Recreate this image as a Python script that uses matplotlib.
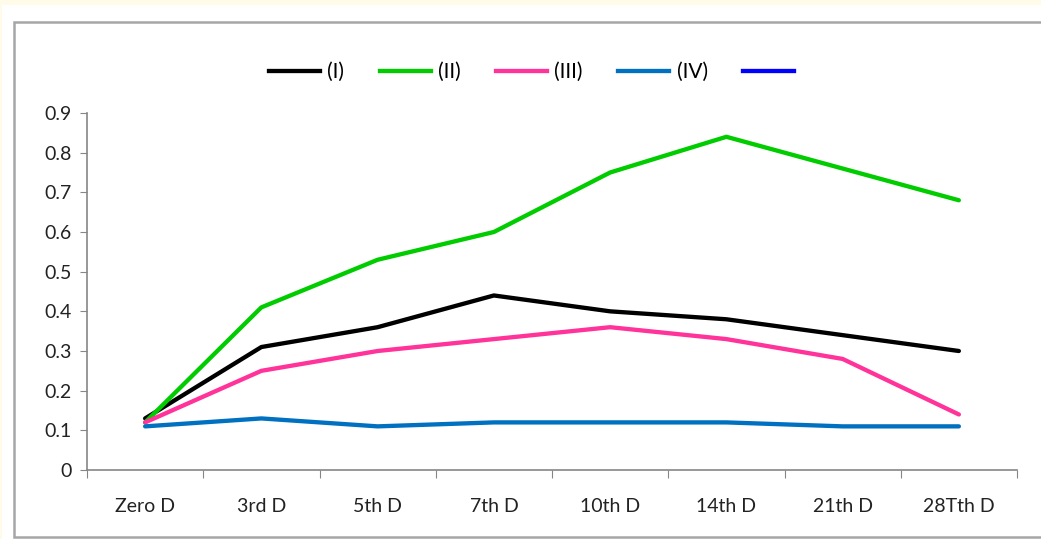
import matplotlib.pyplot as plt
import matplotlib.patches as patches
from matplotlib.lines import Line2D

days = ['Zero D', '3rd D', '5th D', '7th D', '10th D', '14th D', '21th D', '28Tth D']
s1 = [0.13, 0.31, 0.36, 0.44, 0.40, 0.38, 0.34, 0.30]
s2 = [0.12, 0.41, 0.53, 0.60, 0.75, 0.84, 0.76, 0.68]
s3 = [0.12, 0.25, 0.30, 0.33, 0.36, 0.33, 0.28, 0.14]
s4 = [0.11, 0.13, 0.11, 0.12, 0.12, 0.12, 0.11, 0.11]
labels = ['(I)', '(II)', '(III)', '(IV)', '']
colors = ['#000000', '#00cc00', '#ff3399', '#0070c0', '#0000ff']

plt.rcParams['font.family'] = ['Lato', 'DejaVu Sans']
plt.rcParams['font.size'] = 14

dpi = 100
fig = plt.figure(figsize=(1041 / dpi, 539 / dpi), dpi=dpi, facecolor='#fffbe8')
# white chart area with grey frame (behind the axes)
fig.patches.append(patches.Rectangle((0.0015, 0.0), 1.0, 0.99, transform=fig.transFigure,
                                     facecolor='white', edgecolor='none', zorder=-2))
fig.patches.append(patches.Rectangle((14 / 1041, 2 / 539), 1.1, (539 - 24) / 539, transform=fig.transFigure,
                                     facecolor='white', edgecolor='#a6a6a6', lw=1.8, zorder=-1))

ax = fig.add_axes([87 / 1041, 69 / 539, 930 / 1041, 357 / 539])
ax.set_facecolor('none')

x = list(range(len(days)))
for ys, col in zip([s1, s2, s3, s4], colors):
    ax.plot(x, ys, color=col, lw=3.1, solid_capstyle='round')

ax.set_xlim(-0.5, len(days) - 0.5)
ax.set_ylim(0, 0.9)
ax.set_yticks([i / 10 for i in range(10)])
ax.set_yticklabels(['0'] + ['%.1f' % (i / 10) for i in range(1, 10)])

ax.set_xticks([i - 0.5 for i in range(len(days) + 1)])
ax.set_xticklabels([])
ax.set_xticks(x, minor=True)
ax.set_xticklabels(days, minor=True)
ax.tick_params(axis='x', which='minor', length=0, pad=20)
ax.tick_params(axis='x', which='major', length=6, color='#868686', direction='out')
ax.tick_params(axis='y', length=5, color='#868686', direction='out', pad=6)
ax.tick_params(axis='both', which='both', labelcolor='#222222')

for side in ['top', 'right']:
    ax.spines[side].set_visible(False)
for side in ['left', 'bottom']:
    ax.spines[side].set_color('#868686')
    ax.spines[side].set_linewidth(1.2)

# legend includes a fifth, unlabeled blue entry
handles = [Line2D([], [], color=c, lw=3.1) for c in colors]
ax.legend(handles, labels, loc='center', bbox_to_anchor=(0.482, 1.115), ncol=5, frameon=False,
          fontsize=15, handlelength=2.45, handletextpad=0.35, columnspacing=1.7)

fig.savefig('out.png', dpi=dpi, facecolor=fig.get_facecolor())
